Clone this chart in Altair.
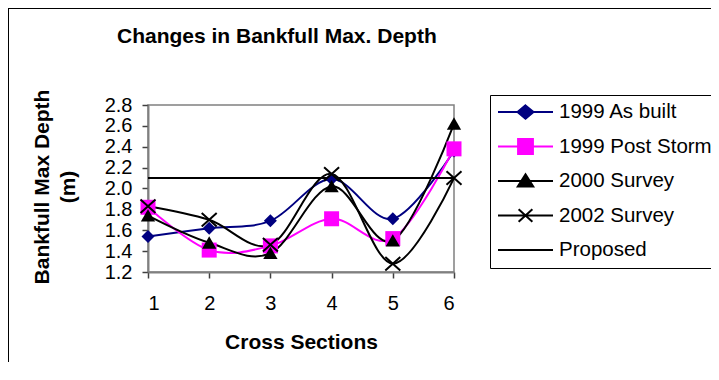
import altair as alt
import pandas as pd

# ---------------- data ----------------
cross = [1, 2, 3, 4, 5, 6]
series_names = ["1999 As built", "1999 Post Storm", "2000 Survey", "2002 Survey", "Proposed"]
as_built = [1.54, 1.62, 1.69, 2.09, 1.71, 2.36]
post_storm = [1.82, 1.41, 1.45, 1.71, 1.52, 2.38]
survey_2000 = [1.74, 1.48, 1.38, 2.02, 1.50, 2.62]
survey_2002 = [1.83, 1.70, 1.46, 2.14, 1.28, 2.10]
proposed = [2.10, 2.10, 2.10, 2.10, 2.10, 2.10]
y_ticks = [1.2, 1.4, 1.6, 1.8, 2.0, 2.2, 2.4, 2.6, 2.8]

series_colors = ["#000080", "#FF00FF", "#000000", "#000000", "#000000"]

rows = []
for name, vals in zip(series_names, [as_built, post_storm, survey_2000, survey_2002, proposed]):
    for c, v in zip(cross, vals):
        rows.append({"cross": c, "depth": v, "series": name})
df = pd.DataFrame(rows)

FONT = "Liberation Sans"

# marker paths (plot)
DIAMOND = "M0,-1L1,0L0,1L-1,0Z"
SQUARE = "M-1,-1H1V1H-1Z"
TRIANGLE = "M0,-1L1.1,0.9L-1.1,0.9Z"
XMARK = "M-1,-0.9L1,0.9M-1,0.9L1,-0.9"
plot_shapes = [DIAMOND, SQUARE, TRIANGLE, XMARK]
plot_sizes = [169, 225, 169, 225]
plot_filled = [True, True, True, False]

# legend symbol paths (line + marker), unit = 27.5 px
LINE = "M-1,0L1,0"
legend_paths = [
    LINE + "M0,-0.24L0.29,0L0,0.24L-0.29,0Z",
    LINE + "M-0.27,-0.27H0.27V0.27H-0.27Z",
    LINE + "M0,-0.24L0.28,0.2L-0.28,0.2Z",
    LINE + "M-0.25,-0.23L0.25,0.23M-0.25,0.23L0.25,-0.23",
    LINE,
]

x_enc = alt.X(
    "cross:Q",
    scale=alt.Scale(domain=[1, 6], nice=False, zero=False),
    axis=alt.Axis(
        values=cross, format="d", title="Cross Sections",
        labelBaseline="alphabetic", labelPadding=31,
        titleX=153, titleY=76, titleBaseline="alphabetic", titleAlign="center",
        titleFontSize=21,
    ),
)
y_enc = alt.Y(
    "depth:Q",
    scale=alt.Scale(domain=[1.2, 2.8], nice=False, zero=False),
    axis=alt.Axis(
        values=y_ticks, format=".1f", title=["Bankfull Max Depth", "(m)"],
        labelPadding=10, titleX=-106, titleY=81.5, titleAngle=270,
        titleBaseline="middle", titleAlign="center", titleLineHeight=26,
        titleFontSize=21,
    ),
)

stroke_scale = alt.Scale(domain=series_names, range=series_colors)
fill_scale = alt.Scale(domain=series_names, range=series_colors)
shape_scale = alt.Scale(domain=series_names, range=legend_paths)

leg = alt.Legend(
    title=None, orient="none", legendX=342, legendY=-10,
    symbolSize=3025, clipHeight=20, rowPadding=13.5, padding=7,
    symbolOffset=0, labelOffset=5, symbolStrokeWidth=2,
    strokeColor="#000000", labelFont=FONT, labelFontSize=20.5, labelColor="#000000",
    fillColor="#ffffff", symbolOpacity=1,
)

base = alt.Chart(df)

line_layers = [
    base.transform_filter(alt.datum.series == name).mark_line(
        interpolate="cardinal", strokeWidth=2, color=col
    ).encode(x=x_enc, y=y_enc)
    for name, col in zip(series_names, series_colors)
]

point_layers = [
    base.transform_filter(alt.datum.series == name).mark_point(
        shape=shp, size=sz, filled=fl, color=col, strokeWidth=2, opacity=1
    ).encode(x=x_enc, y=y_enc)
    for name, col, shp, sz, fl in zip(series_names[:4], series_colors[:4], plot_shapes, plot_sizes, plot_filled)
]

legend_proxy = base.transform_filter("datum.cross < 0").mark_point(filled=True).encode(
    x=x_enc, y=y_enc,
    fill=alt.Fill("series:N", scale=fill_scale, legend=leg),
    stroke=alt.Stroke("series:N", scale=stroke_scale, legend=leg),
    shape=alt.Shape("series:N", scale=shape_scale, legend=leg),
)

frame = alt.Chart(pd.DataFrame({"k": [0]})).mark_rect(
    fill="transparent", stroke="#000000", strokeWidth=2
).encode(x=alt.value(-140), x2=alt.value(700), y=alt.value(-97), y2=alt.value(600))

chart = alt.layer(
    frame, *line_layers, *point_layers, legend_proxy
).properties(
    width=306, height=167,
    background="#ffffff",
    autosize=alt.AutoSizeParams(type="none"),
    padding={"left": 140, "top": 97, "right": 257, "bottom": 90},
    title=alt.TitleParams(
        "Changes in Bankfull Max. Depth", anchor="start", frame="group", dx=-31, dy=56.5,
        font=FONT, fontSize=21, fontWeight="bold", color="#000000",
        baseline="alphabetic", offset=0,
    ),
).configure_view(
    stroke="#808080", strokeWidth=1.5
).configure_axis(
    grid=False, domainColor="#808080", domainWidth=2,
    tickColor="#404040", tickSize=6, tickWidth=1.5,
    labelFont=FONT, labelFontSize=20, labelColor="#000000",
    titleFont=FONT, titleFontWeight="bold", titleColor="#000000",
)

chart.save("out.html", embed_options={"renderer": "svg", "actions": False})
